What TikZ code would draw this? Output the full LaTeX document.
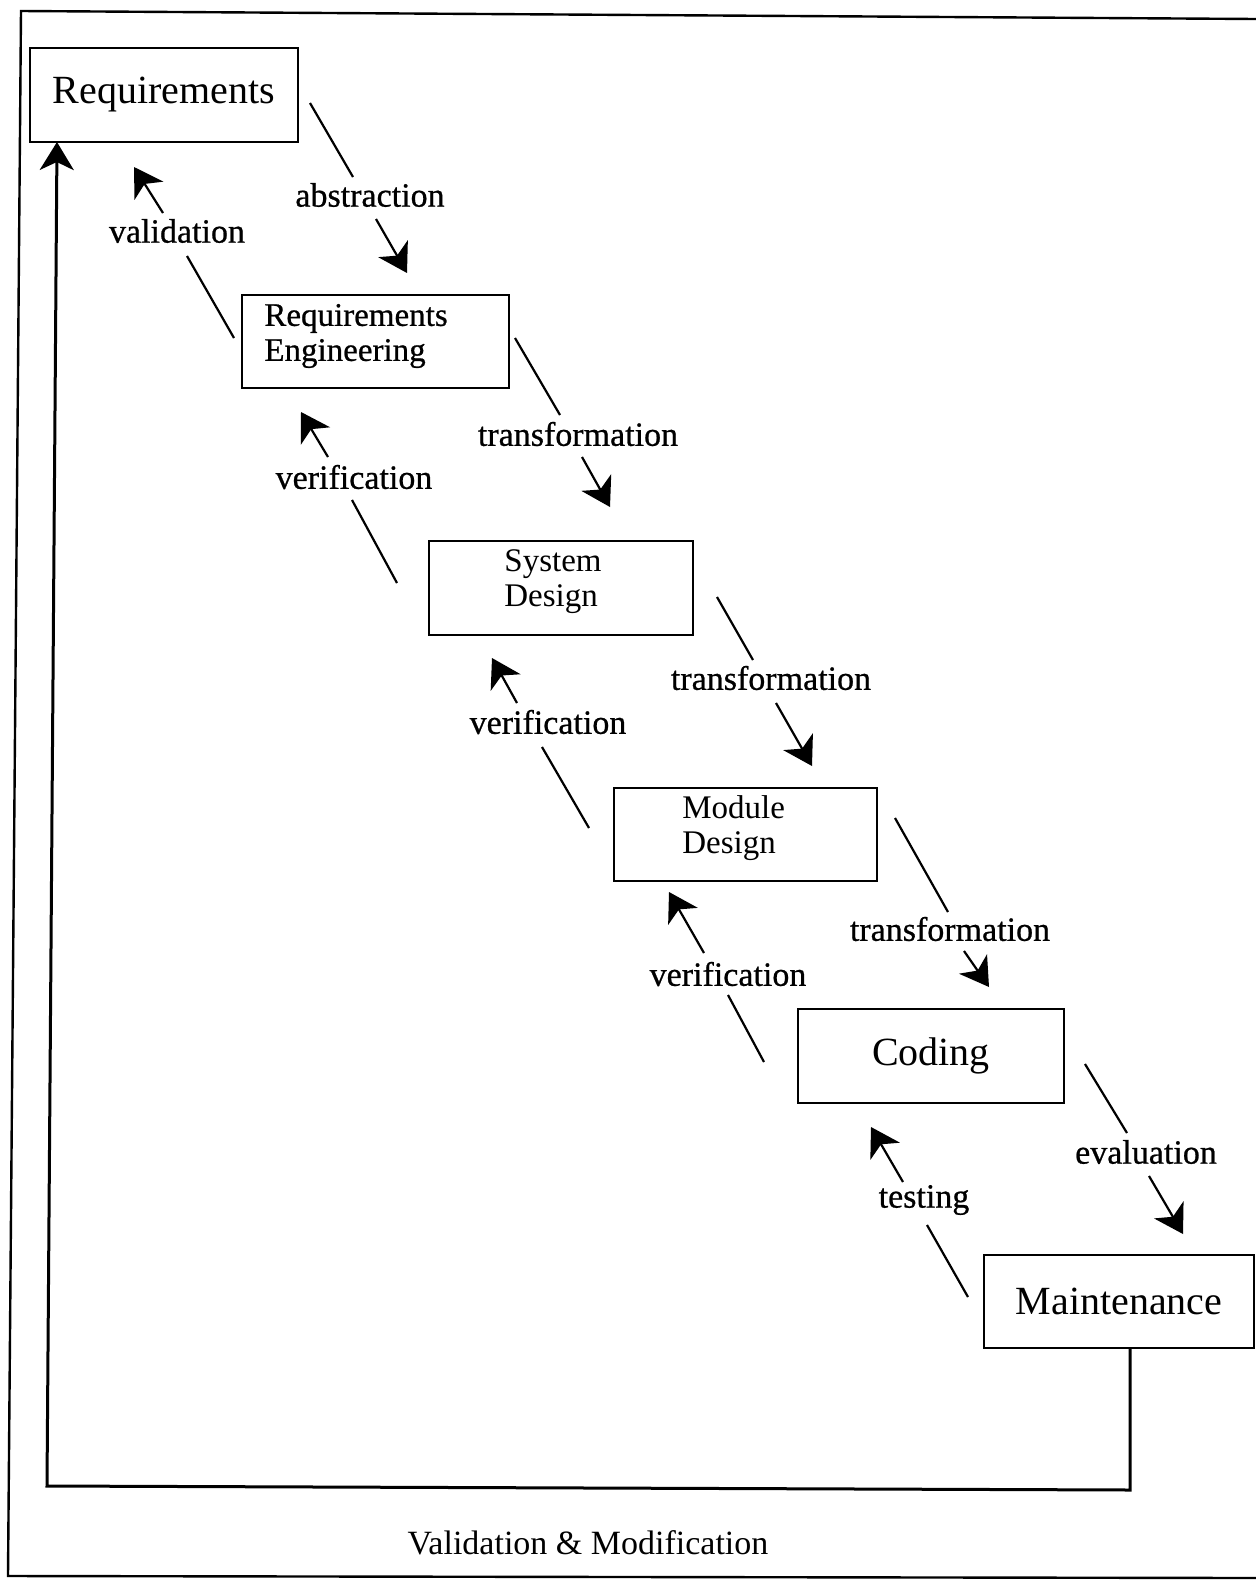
\documentclass[tikz,border=0pt]{standalone}
\usepackage{fontspec}
\setmainfont{Liberation Serif}
\newfontfamily\heavyfont{Liberation Serif}[FakeBold=0.7]
\usetikzlibrary{arrows.meta}
\tikzset{
  box/.style={draw, line width=1.3pt, inner sep=0pt},
  big/.style={font=\fontsize{20}{24}\selectfont},
  mid/.style={font=\fontsize{16.5}{17.5}\selectfont, align=left, inner sep=0pt},
  lbl/.style={font=\heavyfont\fontsize{17}{20}\selectfont, inner sep=1pt},
  seg/.style={line width=1.1pt},
  tip/.style={line width=1.1pt, -{Stealth[length=14pt, width=17pt, inset=4pt]}},
  frameline/.style={line width=1.2pt},
  loopline/.style={line width=1.5pt, line join=miter}
}
\begin{document}
\begin{tikzpicture}[x=0.5pt, y=-0.5pt]
\useasboundingbox (0,0) rectangle (1256,1580);
% outer frame
\coordinate (ftr) at (1256,19);
\coordinate (ftl) at (21,11);
\coordinate (fbl) at (8,1576);
\coordinate (fbr) at (1256,1578);
\draw[frameline] (ftr) -- (ftl) -- (fbl) -- (fbr);

% boxes
\node[box, big, minimum width=134pt, minimum height=47pt] (req) at (164,95) {Requirements};
\node[box, minimum width=133.5pt, minimum height=46.5pt] (reqeng) at (375.5,341.5) {};
\node[mid, font=\heavyfont\fontsize{16.5}{17.5}\selectfont, anchor=west] (reqengtxt) at (264,336) {Requirements\\Engineering};
\node[box, minimum width=132pt, minimum height=47pt] (sys) at (561,588) {};
\node[mid, anchor=west] (systxt) at (504,582) {System\\Design};
\node[box, minimum width=131.5pt, minimum height=46.5pt] (mod) at (745.5,834.5) {};
\node[mid, anchor=west] (modtxt) at (682,828) {Module\\Design};
\node[box, big, minimum width=133pt, minimum height=47pt] (cod) at (931,1056) {Coding};
\node[box, big, minimum width=135pt, minimum height=46.5pt] (mai) at (1119,1301.5) {Maintenance};

% feedback loop
\coordinate (fb1) at (1130,1348.5);
\coordinate (fb2) at (1130,1490);
\coordinate (fb3) at (47,1486);
\coordinate (fb4) at (57,142);
\draw[loopline, -{Stealth[length=14pt, width=17pt, inset=4pt]}] (fb1) -- (fb2) -- (fb3) -- (fb4);
\node[font=\fontsize{17}{20}\selectfont] (vm) at (588,1543) {Validation \& Modification};

% abstraction
\coordinate (a1) at (310,103); \coordinate (a2) at (353,177);
\coordinate (a3) at (376,219); \coordinate (a4) at (407,273);
\draw[seg] (a1) -- (a2); \draw[tip] (a3) -- (a4);
\node[lbl] (abs) at (370,195) {abstraction};

% validation
\coordinate (v1) at (234,338); \coordinate (v2) at (187,256);
\coordinate (v3) at (163,213); \coordinate (v4) at (134,167);
\draw[seg] (v1) -- (v2); \draw[tip] (v3) -- (v4);
\node[lbl] (val) at (177,231) {validation};

% transformation 1
\coordinate (t11) at (515,338); \coordinate (t12) at (560,415);
\coordinate (t13) at (582,457); \coordinate (t14) at (610,507);
\draw[seg] (t11) -- (t12); \draw[tip] (t13) -- (t14);
\node[lbl] (tr1) at (578,434) {transformation};

% verification 1
\coordinate (r11) at (397,583); \coordinate (r12) at (352,500);
\coordinate (r13) at (328,457); \coordinate (r14) at (301,412);
\draw[seg] (r11) -- (r12); \draw[tip] (r13) -- (r14);
\node[lbl] (ve1) at (354,477) {verification};

% transformation 2
\coordinate (t21) at (717,597); \coordinate (t22) at (753,660);
\coordinate (t23) at (776,703); \coordinate (t24) at (812,766);
\draw[seg] (t21) -- (t22); \draw[tip] (t23) -- (t24);
\node[lbl] (tr2) at (771,678) {transformation};

% verification 2
\coordinate (r21) at (589,828); \coordinate (r22) at (542,747);
\coordinate (r23) at (517,703); \coordinate (r24) at (492,658);
\draw[seg] (r21) -- (r22); \draw[tip] (r23) -- (r24);
\node[lbl] (ve2) at (548,722) {verification};

% transformation 3
\coordinate (t31) at (895,818); \coordinate (t32) at (948,912);
\coordinate (t33) at (964,951); \coordinate (t34) at (989,987);
\draw[seg] (t31) -- (t32); \draw[tip] (t33) -- (t34);
\node[lbl] (tr3) at (950,929) {transformation};

% verification 3
\coordinate (r31) at (764,1062); \coordinate (r32) at (728,995);
\coordinate (r33) at (704,953); \coordinate (r34) at (669,892);
\draw[seg] (r31) -- (r32); \draw[tip] (r33) -- (r34);
\node[lbl] (ve3) at (728,974) {verification};

% evaluation
\coordinate (e1) at (1085,1064); \coordinate (e2) at (1127,1133);
\coordinate (e3) at (1149,1176); \coordinate (e4) at (1183,1234);
\draw[seg] (e1) -- (e2); \draw[tip] (e3) -- (e4);
\node[lbl] (ev) at (1146,1152) {evaluation};

% testing
\coordinate (s1) at (968,1297); \coordinate (s2) at (927,1225);
\coordinate (s3) at (903,1182); \coordinate (s4) at (871,1127);
\draw[seg] (s1) -- (s2); \draw[tip] (s3) -- (s4);
\node[lbl] (te) at (924,1200) {testing};
\end{tikzpicture}
\end{document}
